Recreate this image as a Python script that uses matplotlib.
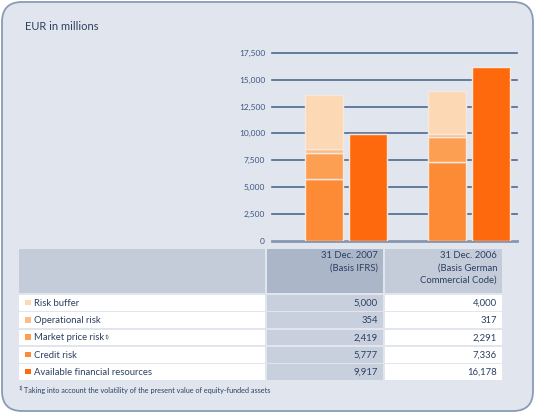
import matplotlib
matplotlib.use("Agg")
import matplotlib.pyplot as plt
from matplotlib.patches import FancyBboxPatch, Rectangle
import numpy as np

plt.rcParams['font.family'] = ['Lato', 'DejaVu Sans']

# ---- data ----
periods = ["31 Dec. 2007\n(Basis IFRS)", "31 Dec. 2006\n(Basis German\nCommercial Code)"]
row_labels = ["Risk buffer", "Operational risk", "Market price risk", "Credit risk",
              "Available financial resources"]
risk_buffer = [5000, 4000]
operational_risk = [354, 317]
market_price_risk = [2419, 2291]
credit_risk = [5777, 7336]
available_resources = [9917, 16178]
yticks = [0, 2500, 5000, 7500, 10000, 12500, 15000, 17500]

# ---- style ----
PANEL = "#e1e6ee"
BORDER = "#8a9bb6"
TEXT = "#2c3f62"
GRID = "#4d6890"
col_buffer = "#fdd8b4"
col_oper = "#fdbc84"
col_market = "#fd9f52"
col_credit = "#fd8b36"
col_afr = "#ff690e"
row_colors = [col_buffer, col_oper, col_market, col_credit, col_afr]

W, H = 535, 413
fig = plt.figure(figsize=(W / 100, H / 100), dpi=100)
fig.patch.set_facecolor("white")

bg = fig.add_axes([0, 0, 1, 1], zorder=0)
bg.set_xlim(0, W)
bg.set_ylim(H, 0)
bg.axis("off")
bg.add_patch(FancyBboxPatch((2, 2), W - 4, H - 4, boxstyle="round,pad=0,rounding_size=20",
                            facecolor=PANEL, edgecolor=BORDER, linewidth=1.3))
bg.text(25, 26, "EUR in millions", fontsize=8, color=TEXT, va="center", ha="left")

# ---- chart ----
left_px, right_px = 272, 517
top_px, bot_px = 52.7, 241
ax = fig.add_axes([left_px / W, (H - bot_px) / H, (right_px - left_px) / W,
                   (bot_px - top_px) / H], zorder=2)
ax.patch.set_alpha(0)
for s in ax.spines.values():
    s.set_visible(False)
ax.set_ylim(0, 17500)
ax.set_xlim(-0.604, 1.388)
ax.set_xticks([])
ax.set_yticks(yticks)
ax.set_yticklabels([f"{v:,}" for v in yticks], fontsize=6, color="#3d5580")
ax.tick_params(axis="y", length=0, pad=5)
for v in yticks:
    if v == 0:
        ax.axhline(v, color="#8797b2", lw=2.0, zorder=1, clip_on=False)
    else:
        ax.axhline(v, color=GRID, lw=1.2, zorder=1, clip_on=False)

x = np.arange(len(periods))
w = 0.31
off = 0.18
edge = dict(edgecolor="#f5e9df", linewidth=1.0, zorder=3)
b0 = np.zeros(2)
for vals, c in [(credit_risk, col_credit), (market_price_risk, col_market),
                (operational_risk, col_oper), (risk_buffer, col_buffer)]:
    ax.bar(x - off, vals, w, bottom=b0, color=c, **edge)
    b0 = b0 + np.array(vals)
ax.bar(x + off, available_resources, w, color=col_afr, **edge)

# ---- table ----
col_x = [(19, 265), (267, 383), (385, 502)]
hdr_top, hdr_bot = 249, 293
bg.add_patch(Rectangle((col_x[0][0], hdr_top), col_x[0][1] - col_x[0][0], hdr_bot - hdr_top,
                       facecolor="#c4ccda", edgecolor="none"))
bg.add_patch(Rectangle((col_x[1][0], hdr_top), col_x[1][1] - col_x[1][0], hdr_bot - hdr_top,
                       facecolor="#abb6c9", edgecolor="none"))
bg.add_patch(Rectangle((col_x[2][0], hdr_top), col_x[2][1] - col_x[2][0], hdr_bot - hdr_top,
                       facecolor="#c4ccda", edgecolor="none"))
for j, p in enumerate(periods):
    bg.text(col_x[j + 1][1] - 5, 251, p, fontsize=6.8, color=TEXT, ha="right", va="top",
            linespacing=1.45, multialignment="right")

values = [risk_buffer, operational_risk, market_price_risk, credit_risk, available_resources]
row_top0, pitch, rh = 295, 17.25, 15.8
for i, lab in enumerate(row_labels):
    yt = row_top0 + i * pitch
    yc = yt + rh / 2
    bg.add_patch(Rectangle((col_x[0][0], yt), col_x[0][1] - col_x[0][0], rh,
                           facecolor="white", edgecolor="none"))
    bg.add_patch(Rectangle((col_x[1][0], yt), col_x[1][1] - col_x[1][0], rh,
                           facecolor="#c8d0dd", edgecolor="none"))
    bg.add_patch(Rectangle((col_x[2][0], yt), col_x[2][1] - col_x[2][0], rh,
                           facecolor="white", edgecolor="none"))
    bg.add_patch(Rectangle((25, yc - 3), 5.5, 5.5, facecolor=row_colors[i], edgecolor="none"))
    t = bg.text(33.5, yc + 0.5, lab, fontsize=6.8, color=TEXT, ha="left", va="center")
    if i == 2:
        bg.annotate("1)", xy=(1, 1), xycoords=t, xytext=(0.8, -1.2), textcoords="offset points",
                    fontsize=3.8, color=TEXT, ha="left", va="top")
    for j in range(2):
        bg.text(col_x[j + 1][1] - 5, yc + 0.5, f"{values[i][j]:,}", fontsize=6.8, color=TEXT,
                ha="right", va="center")

bg.text(19, 388.5, "1)", fontsize=3.6, color=TEXT, ha="left", va="center")
bg.text(24.5, 390.5, "Taking into account the volatility of the present value of equity-funded assets",
        fontsize=5.2, color=TEXT, ha="left", va="center")

fig.savefig("out.png", dpi=100, facecolor="white")
